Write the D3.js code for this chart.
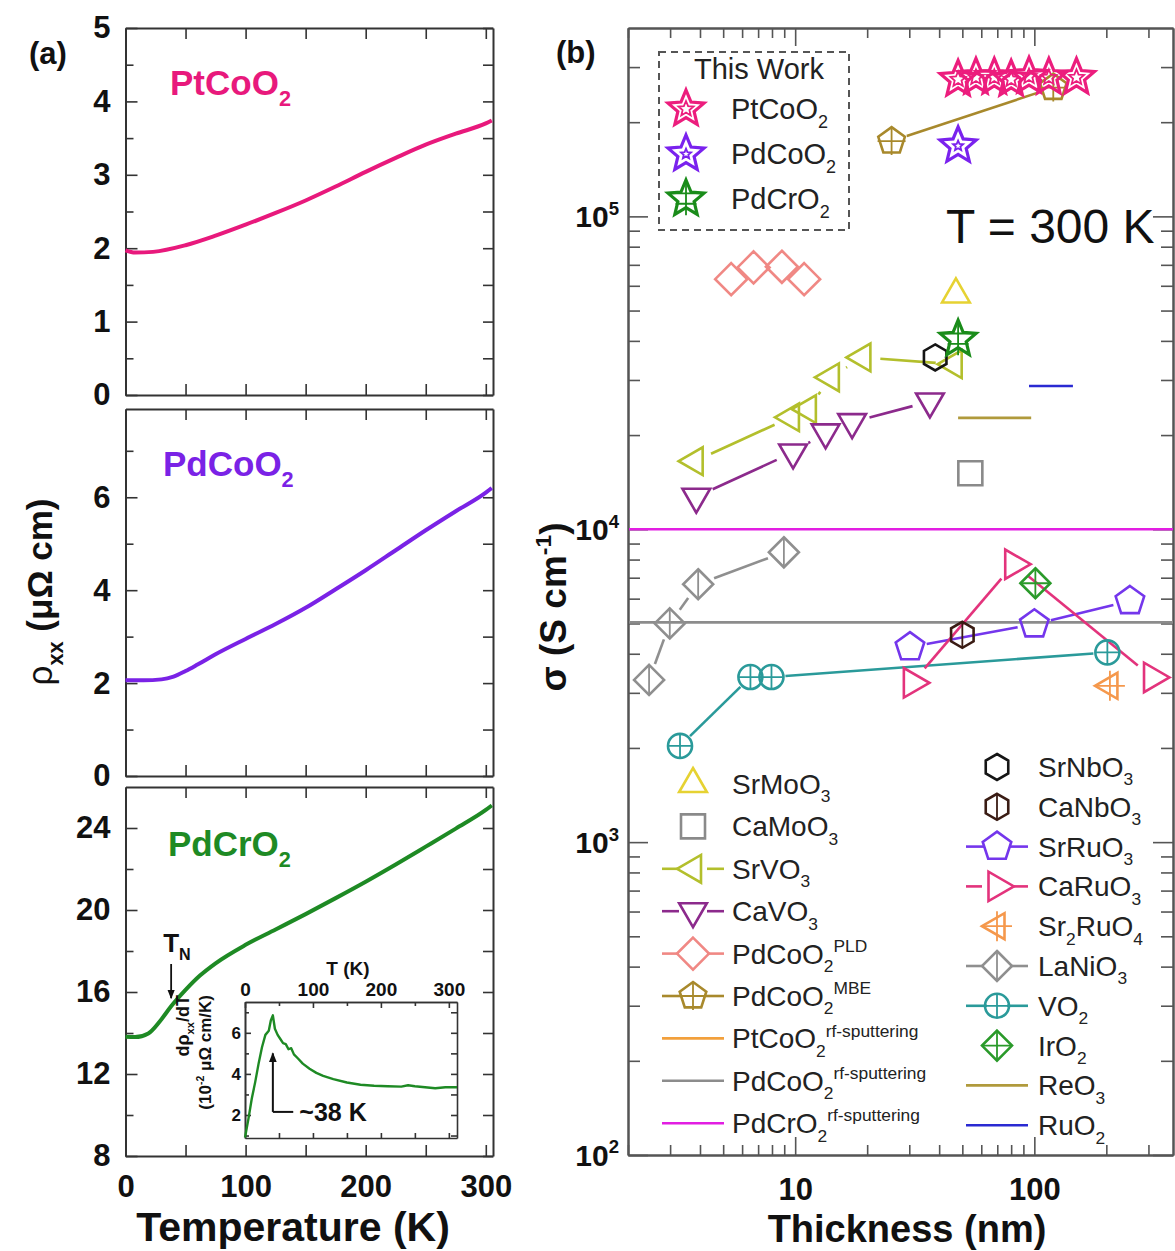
<!DOCTYPE html>
<html>
<head>
<meta charset="utf-8">
<script src="https://cdn.jsdelivr.net/npm/d3@7"></script>
<style>
  body { margin: 0; background: #fff; }
</style>
</head>
<body>
<svg id="fig" width="1175" height="1251"></svg>
<script>
'use strict';
// ---------- panel (a): rho_xx vs temperature ----------
const tempPtCoO2 = [0, 8, 23, 50, 75, 100, 125, 150, 175, 200, 225, 250, 275, 300, 305];
const rhoPtCoO2  = [1.97, 1.94, 1.95, 2.04, 2.17, 2.32, 2.48, 2.65, 2.84, 3.04, 3.23, 3.41, 3.56, 3.70, 3.74];
const tempPdCoO2 = [0, 15, 30, 40, 50, 60, 75, 100, 125, 150, 175, 200, 225, 250, 275, 300, 305];
const rhoPdCoO2  = [2.06, 2.06, 2.08, 2.14, 2.26, 2.40, 2.62, 2.95, 3.27, 3.62, 4.02, 4.43, 4.86, 5.29, 5.70, 6.10, 6.20];
const tempPdCrO2 = [0, 8, 19, 29, 38, 50, 62, 75, 100, 125, 150, 175, 200, 225, 250, 275, 300, 305];
const rhoPdCrO2  = [13.82, 13.8, 13.98, 14.6, 15.3, 16.1, 16.8, 17.4, 18.3, 19.05, 19.8, 20.58, 21.38, 22.22, 23.09, 23.97, 24.88, 25.1];
// inset: d(rho)/dT of PdCrO2 (10^-2 uOhm cm/K)
const tempInset = [0, 5, 10, 15, 20, 25, 30, 35, 38, 41, 44, 48, 52, 56, 60, 64, 68, 72, 78, 85, 95, 105, 115, 130, 150, 170, 190, 210, 230, 240, 250, 265, 280, 295, 312];
const dRhoInset = [0.9, 1.8, 2.8, 3.6, 4.5, 5.3, 5.9, 6.1, 6.6, 6.85, 6.2, 5.9, 5.7, 5.5, 5.45, 5.2, 5.25, 4.95, 4.75, 4.5, 4.25, 4.05, 3.9, 3.75, 3.58, 3.47, 3.42, 3.4, 3.38, 3.45, 3.4, 3.35, 3.3, 3.35, 3.35];
const tempTicks = [0, 50, 100, 150, 200, 250, 300];
const tempLabels = [0, 100, 200, 300];

// ---------- panel (b): conductivity vs thickness, [thickness nm, sigma S/cm] ----------
const ptCoO2Film = [[48, 2.74e5], [57, 2.78e5], [68, 2.78e5], [80, 2.74e5], [95, 2.8e5], [115, 2.78e5], [150, 2.78e5]];
const pdCoO2Film = [[48, 1.68e5]];
const pdCrO2Film = [[48, 4.05e4]];
const srMoO3 = [[47, 5.63e4]];
const caMoO3 = [[54, 1.51e4]];
const srVO3 = [[3.8, 1.65e4], [9.6, 2.28e4], [11.3, 2.42e4], [14.1, 3.06e4], [19.1, 3.54e4], [46, 3.37e4]];
const caVO3 = [[3.86, 1.27e4], [9.8, 1.76e4], [13.4, 2.04e4], [17.3, 2.2e4], [36.6, 2.56e4]];
const pdCoO2PLD = [[5.4, 6.3e4], [6.7, 6.87e4], [8.8, 6.9e4], [10.9, 6.3e4]];
const pdCoO2MBE = [[25.3, 1.74e5], [120, 2.58e5]];
const srNbO3 = [[38.5, 3.54e4]];
const caNbO3 = [[50, 4.6e3]];
const srRuO3 = [[30.2, 4.2e3], [100, 4.97e3], [251, 5.9e3]];
const caRuO3 = [[30.9, 3.23e3], [82, 7.73e3], [312, 3.36e3]];
const sr2RuO4 = [[207, 3.16e3]];
const laNiO3 = [[2.45, 3.3e3], [2.99, 5.0e3], [3.93, 6.67e3], [8.97, 8.44e3]];
const vO2 = [[3.3, 2.03e3], [6.5, 3.37e3], [7.96, 3.37e3], [202, 4.04e3]];
const irO2 = [[101, 6.72e3]];
const reO3 = [[48, 2.27e4], [97, 2.27e4]];
const ruO2 = [[95, 2.87e4], [145, 2.87e4]];
const pdCoO2Rf = 5.04e3;   // horizontal reference lines
const pdCrO2Rf = 1.0e4;
const thickMajor = [10, 100];
const thickMinor = [2, 3, 4, 5, 6, 7, 8, 9, 20, 30, 40, 50, 60, 70, 80, 90, 200, 300];
const sigmaMajor = [1e2, 1e3, 1e4, 1e5];
const sigmaMinor = [2e2, 3e2, 4e2, 5e2, 6e2, 7e2, 8e2, 9e2, 2e3, 3e3, 4e3, 5e3, 6e3, 7e3, 8e3, 9e3,
  2e4, 3e4, 4e4, 5e4, 6e4, 7e4, 8e4, 9e4, 2e5, 3e5];

const FONT = '"Liberation Sans", Arial, Helvetica, sans-serif';
const svg = d3.select('#fig').attr('font-family', FONT);

// rich text: parts = [[text, 'sub'|'sup'|'' , bold?]]
function rich(sel, parts, size) {
  var off = 0;
  parts.forEach(function(p) {
    var kind = p[1] || '';
    var target = kind === 'sub' ? size * 0.3 : (kind === 'sup' ? -size * 0.42 : 0);
    var t = sel.append('tspan')
      .attr('dy', (target - off).toFixed(1))
      .attr('font-size', kind ? size * 0.62 : size)
      .text(p[0]);
    if (p[2] != null) t.attr('font-weight', p[2] ? 'bold' : 'normal');
    off = target;
  });
  return sel;
}

function styleAxis(sel, color, size) {
  sel.attr('font-family', FONT).attr('font-size', size || 30).attr('font-weight', 'bold');
  sel.select('.domain').attr('stroke', color).attr('stroke-width', 2);
  sel.selectAll('.tick line').attr('stroke', color).attr('stroke-width', 1.6);
  sel.selectAll('.tick text').attr('fill', '#111');
}
var none = function() { return ''; };
var plain = function(d) { return String(d); };

// arrow head
svg.append('defs').append('marker')
  .attr('id', 'arr').attr('viewBox', '0 0 10 10').attr('refX', 9).attr('refY', 5)
  .attr('markerWidth', 5).attr('markerHeight', 6).attr('orient', 'auto')
  .append('path').attr('d', 'M0,1L10,5L0,9Z').attr('fill', '#111');

// ================= panel (a) =================
var xA = d3.scaleLinear().domain([0, 306]).range([125.5, 493]);
var panelsA = [
  { top: 28, bottom: 395, dom: [0, 5], major: [0, 1, 2, 3, 4, 5], minor: [0.5, 1.5, 2.5, 3.5, 4.5],
    t: tempPtCoO2, r: rhoPtCoO2, color: '#e8197c', name: 'PtCoO', lx: 170, ly: 95 },
  { top: 409, bottom: 776, dom: [0, 7.9], major: [0, 2, 4, 6], minor: [1, 3, 5, 7],
    t: tempPdCoO2, r: rhoPdCoO2, color: '#7a22e6', name: 'PdCoO', lx: 163, ly: 476 },
  { top: 787, bottom: 1156, dom: [8, 26], major: [8, 12, 16, 20, 24], minor: [10, 14, 18, 22],
    t: tempPdCrO2, r: rhoPdCrO2, color: '#1e8a24', name: 'PdCrO', lx: 168, ly: 856, last: true }
];

panelsA.forEach(function(p) {
  var y = d3.scaleLinear().domain(p.dom).range([p.bottom, p.top]);
  p.y = y;
  var g = svg.append('g');
  var c = '#333';
  // inward ticks on four sides
  g.append('g').attr('transform', 'translate(0,' + p.bottom + ')')
    .call(d3.axisBottom(xA).tickValues(tempTicks.slice(1)).tickSize(-11).tickSizeOuter(0).tickFormat(none))
    .call(styleAxis, c);
  g.append('g').attr('transform', 'translate(0,' + p.top + ')')
    .call(d3.axisTop(xA).tickValues(tempTicks.slice(1)).tickSize(-11).tickSizeOuter(0).tickFormat(none))
    .call(styleAxis, c);
  g.append('g').attr('transform', 'translate(' + xA.range()[0] + ',0)')
    .call(d3.axisLeft(y).tickValues(p.minor).tickSize(-8).tickSizeOuter(0).tickFormat(none))
    .call(styleAxis, c);
  g.append('g').attr('transform', 'translate(' + xA.range()[0] + ',0)')
    .call(d3.axisLeft(y).tickValues(p.major).tickSize(-12).tickSizeOuter(0).tickPadding(15).tickFormat(plain))
    .call(styleAxis, c, 31);
  g.append('g').attr('transform', 'translate(' + xA.range()[1] + ',0)')
    .call(d3.axisRight(y).tickValues(p.major.concat(p.minor)).tickSize(-10).tickSizeOuter(0).tickFormat(none))
    .call(styleAxis, c);
  if (p.last) {
    g.append('g').attr('transform', 'translate(0,' + p.bottom + ')')
      .call(d3.axisBottom(xA).tickValues(tempLabels).tickSize(0).tickPadding(19).tickFormat(plain))
      .call(styleAxis, c, 31)
      .select('.domain').remove();
  }
  // curve
  var pts = p.t.map(function(t, i) { return [t, p.r[i]]; });
  g.append('path').datum(pts)
    .attr('fill', 'none').attr('stroke', p.color).attr('stroke-width', 4)
    .attr('stroke-linejoin', 'round')
    .attr('d', d3.line().x(function(d) { return xA(d[0]); }).y(function(d) { return y(d[1]); }).curve(d3.curveMonotoneX));
  // compound label
  rich(g.append('text').attr('x', p.lx).attr('y', p.ly).attr('fill', p.color).attr('font-weight', 'bold'),
    [[p.name], ['2', 'sub']], 35);
});

// T_N annotation
(function() {
  var p = panelsA[2];
  var tn = 38;
  var g = svg.append('g');
  rich(g.append('text').attr('x', xA(tn) - 8).attr('y', 952).attr('font-weight', 'bold').attr('fill', '#111'),
    [['T'], ['N', 'sub']], 26);
  g.append('line').attr('x1', xA(tn)).attr('x2', xA(tn)).attr('y1', 964).attr('y2', p.y(15.7))
    .attr('stroke', '#111').attr('stroke-width', 1.8).attr('marker-end', 'url(#arr)');
})();

// inset
(function() {
  var xI = d3.scaleLinear().domain([0, 312]).range([245, 457]);
  var yI = d3.scaleLinear().domain([0.88, 7.5]).range([1138, 1002]);
  var g = svg.append('g');
  g.append('rect').attr('x', 245).attr('y', 1002).attr('width', 212).attr('height', 136).attr('fill', '#fff');
  var c = '#333';
  g.append('g').attr('transform', 'translate(0,1002)')
    .call(d3.axisTop(xI).tickValues([0, 100, 200, 300]).tickSize(-6).tickSizeOuter(0).tickPadding(6).tickFormat(plain))
    .call(styleAxis, c, 19);
  g.append('g').attr('transform', 'translate(0,1002)')
    .call(d3.axisTop(xI).tickValues([50, 150, 250]).tickSize(-4).tickSizeOuter(0).tickFormat(none))
    .call(styleAxis, c);
  g.append('g').attr('transform', 'translate(0,1138)')
    .call(d3.axisBottom(xI).tickValues([50, 100, 150, 200, 250, 300]).tickSize(-5).tickSizeOuter(0).tickFormat(none))
    .call(styleAxis, c);
  g.append('g').attr('transform', 'translate(245,0)')
    .call(d3.axisLeft(yI).tickValues([2, 4, 6]).tickSize(-6).tickSizeOuter(0).tickPadding(4).tickFormat(plain))
    .call(styleAxis, c, 17);
  g.append('g').attr('transform', 'translate(245,0)')
    .call(d3.axisLeft(yI).tickValues([1, 3, 5, 7]).tickSize(-4).tickSizeOuter(0).tickFormat(none))
    .call(styleAxis, c);
  g.append('g').attr('transform', 'translate(457,0)')
    .call(d3.axisRight(yI).tickValues([1, 2, 3, 4, 5, 6, 7]).tickSize(-6).tickSizeOuter(0).tickFormat(none))
    .call(styleAxis, c);
  g.selectAll('.domain').attr('stroke-width', 1.6);
  var pts = tempInset.map(function(t, i) { return [t, dRhoInset[i]]; });
  g.append('path').datum(pts).attr('fill', 'none').attr('stroke', '#1e8a24').attr('stroke-width', 2.4)
    .attr('stroke-linejoin', 'round')
    .attr('d', d3.line().x(function(d) { return xI(d[0]); }).y(function(d) { return yI(d[1]); }));
  g.append('text').attr('x', 348).attr('y', 975).attr('text-anchor', 'middle')
    .attr('font-size', 19).attr('font-weight', 'bold').attr('fill', '#111').text('T (K)');
  rich(g.append('text').attr('transform', 'translate(189,995) rotate(-90)').attr('text-anchor', 'end')
    .attr('font-weight', 'bold').attr('fill', '#111'), [['dρ'], ['xx', 'sub'], ['/dT']], 18);
  rich(g.append('text').attr('transform', 'translate(211,995) rotate(-90)').attr('text-anchor', 'end')
    .attr('font-weight', 'bold').attr('fill', '#111'), [['(10'], ['-2', 'sup'], [' μΩ cm/K)']], 17);
  // ~38 K marker
  var xa = xI(41);
  g.append('line').attr('x1', xa).attr('x2', xa).attr('y1', yI(2.15)).attr('y2', yI(5.0))
    .attr('stroke', '#111').attr('stroke-width', 2).attr('marker-end', 'url(#arr)');
  g.append('line').attr('x1', xa).attr('x2', xI(71)).attr('y1', yI(2.15)).attr('y2', yI(2.15))
    .attr('stroke', '#111').attr('stroke-width', 2);
  g.append('text').attr('x', xI(80)).attr('y', yI(2.15) + 9).attr('font-size', 25)
    .attr('font-weight', 'bold').attr('fill', '#111').text('~38 K');
})();

svg.append('text').attr('x', 293).attr('y', 1241).attr('text-anchor', 'middle')
  .attr('font-size', 41).attr('font-weight', 'bold').attr('fill', '#111').text('Temperature (K)');
rich(svg.append('text').attr('transform', 'translate(52,592) rotate(-90)').attr('text-anchor', 'middle')
  .attr('fill', '#111').attr('font-weight', 'bold'), [['ρ', '', false], ['xx', 'sub'], [' (μΩ cm)']], 35);
svg.append('text').attr('x', 29).attr('y', 64).attr('font-size', 31).attr('font-weight', 'bold')
  .attr('fill', '#111').text('(a)');

// ================= panel (b) =================
var xB = d3.scaleLog().domain([2, 380]).range([628, 1173]);
var yB = d3.scaleLog().domain([100, 4e5]).range([1155, 28]);

function shapePath(shape, r) {
  function poly(n, start, rad) {
    return d3.range(n).map(function(i) {
      var a = (start + i * 360 / n) * Math.PI / 180;
      return [rad * Math.cos(a), rad * Math.sin(a)];
    });
  }
  var pts;
  switch (shape) {
    case 'star':
      pts = d3.range(10).map(function(i) {
        var a = (-90 + i * 36) * Math.PI / 180, rr = i % 2 ? r * 0.45 : r;
        return [rr * Math.cos(a), rr * Math.sin(a)];
      });
      break;
    case 'triUp': pts = poly(3, -90, r); break;
    case 'triDown': pts = poly(3, 90, r); break;
    case 'triLeft': pts = poly(3, 180, r); break;
    case 'triRight': pts = poly(3, 0, r); break;
    case 'diamond': pts = poly(4, -90, r); break;
    case 'square': pts = poly(4, -45, r * 1.414); break;
    case 'pentagon': pts = poly(5, -90, r); break;
    case 'hexagon': pts = poly(6, -90, r); break;
    case 'circle':
      return 'M' + r + ',0A' + r + ',' + r + ' 0 1,1 ' + (-r) + ',0A' + r + ',' + r + ' 0 1,1 ' + r + ',0Z';
  }
  return 'M' + pts.map(function(q) { return q[0].toFixed(2) + ',' + q[1].toFixed(2); }).join('L') + 'Z';
}
function decoPath(deco, r) {
  if (deco === 'plus') return 'M' + (-r) + ',0H' + r + 'M0,' + (-r) + 'V' + r;
  if (deco === 'vline') return 'M0,' + (-r) + 'V' + r;
  if (deco === 'innerStar') return shapePath('star', r * 0.42);
  if (deco === 'smallStar') return shapePath('star', r * 0.28);
  if (deco === 'crossStar') return 'M0,' + (-r) + 'V' + (r * 0.85) + 'M' + (-r * 0.95) + ',' + (-r * 0.3) + 'H' + (r * 0.95) +
    'M' + (-r * 0.55) + ',' + (r * 0.25) + 'H' + (r * 0.55);
  return null;
}
function drawMarker(g, s, cx, cy) {
  if (!s.shape) return;
  var m = g.append('g').attr('transform', 'translate(' + cx + ',' + cy + ')');
  m.append('path').attr('d', shapePath(s.shape, s.r)).attr('fill', 'none')
    .attr('stroke', s.color).attr('stroke-width', s.sw || 2.6).attr('stroke-linejoin', 'miter');
  var d = s.deco ? decoPath(s.deco, s.r) : null;
  if (d) m.append('path').attr('d', d).attr('fill', 'none').attr('stroke', s.color).attr('stroke-width', 1.8);
}
// line segments with gaps around markers
function gappedLine(g, pts, gap, color, w) {
  for (var i = 1; i < pts.length; i++) {
    var a = pts[i - 1], b = pts[i];
    var dx = b[0] - a[0], dy = b[1] - a[1], L = Math.sqrt(dx * dx + dy * dy);
    if (L <= 2 * gap) continue;
    var ux = dx / L, uy = dy / L;
    g.append('line')
      .attr('x1', a[0] + ux * gap).attr('y1', a[1] + uy * gap)
      .attr('x2', b[0] - ux * gap).attr('y2', b[1] - uy * gap)
      .attr('stroke', color).attr('stroke-width', w || 2.5);
  }
}

var series = {
  ptFilm:  { data: ptCoO2Film, shape: 'star', deco: 'innerStar', r: 19, color: '#ec1d7d', sw: 3.2 },
  pdFilm:  { data: pdCoO2Film, shape: 'star', deco: 'smallStar', r: 19, color: '#7a22ee', sw: 3.2 },
  crFilm:  { data: pdCrO2Film, shape: 'star', deco: 'crossStar', r: 19, color: '#1a8c1a', sw: 3.2 },
  srMoO3:  { data: srMoO3, shape: 'triUp', r: 16, color: '#e6d232' },
  caMoO3:  { data: caMoO3, shape: 'square', r: 12, color: '#8a8a8a' },
  srVO3:   { data: srVO3, shape: 'triLeft', r: 16, color: '#b3bf2c', line: true },
  caVO3:   { data: caVO3, shape: 'triDown', r: 16, color: '#8c2a8c', line: true },
  pld:     { data: pdCoO2PLD, shape: 'diamond', r: 16, color: '#f08884', line: true },
  mbe:     { data: pdCoO2MBE, shape: 'pentagon', deco: 'plus', r: 14, color: '#a8892c', line: true },
  ptRf:    { color: '#f2a03c', line: true },
  pdRf:    { color: '#8c8c8c', line: true },
  crRf:    { color: '#e21ee2', line: true },
  srNbO3:  { data: srNbO3, shape: 'hexagon', r: 13, color: '#151515' },
  caNbO3:  { data: caNbO3, shape: 'hexagon', deco: 'vline', r: 13, color: '#3a1c14' },
  srRuO3:  { data: srRuO3, shape: 'pentagon', r: 15, color: '#7436ec', line: true },
  caRuO3:  { data: caRuO3, shape: 'triRight', r: 17, color: '#e3337c', line: true },
  sr2RuO4: { data: sr2RuO4, shape: 'triLeft', deco: 'plus', r: 15, color: '#f5984c' },
  laNiO3:  { data: laNiO3, shape: 'diamond', deco: 'vline', r: 15, color: '#8f8f8f', line: true },
  vO2:     { data: vO2, shape: 'circle', deco: 'plus', r: 12, color: '#2a9a9a', line: true },
  irO2:    { data: irO2, shape: 'diamond', deco: 'plus', r: 15, color: '#2a9a2a' },
  reO3:    { data: reO3, color: '#b09a3c', line: true },
  ruO2:    { data: ruO2, color: '#2a2ad2', line: true }
};

var gB = svg.append('g');
// frame and ticks
(function() {
  var c = '#555';
  gB.append('g').attr('transform', 'translate(0,1155)')
    .call(d3.axisBottom(xB).tickValues(thickMinor).tickSize(-10).tickSizeOuter(0).tickFormat(none)).call(styleAxis, c);
  gB.append('g').attr('transform', 'translate(0,1155)')
    .call(d3.axisBottom(xB).tickValues(thickMajor).tickSize(-18).tickSizeOuter(0).tickPadding(23)
      .tickFormat(plain)).call(styleAxis, c, 31);
  gB.append('g').attr('transform', 'translate(0,28)')
    .call(d3.axisTop(xB).tickValues(thickMinor).tickSize(-10).tickSizeOuter(0).tickFormat(none)).call(styleAxis, c);
  gB.append('g').attr('transform', 'translate(0,28)')
    .call(d3.axisTop(xB).tickValues(thickMajor).tickSize(-18).tickSizeOuter(0).tickFormat(none)).call(styleAxis, c);
  [[628, d3.axisLeft], [1173, d3.axisRight]].forEach(function(s) {
    gB.append('g').attr('transform', 'translate(' + s[0] + ',0)')
      .call(s[1](yB).tickValues(sigmaMinor).tickSize(-12).tickSizeOuter(0).tickFormat(none)).call(styleAxis, c);
    gB.append('g').attr('transform', 'translate(' + s[0] + ',0)')
      .call(s[1](yB).tickValues(sigmaMajor).tickSize(-20).tickSizeOuter(0).tickFormat(none)).call(styleAxis, c);
  });
  gB.selectAll('.ylab').data(sigmaMajor).enter().append('text')
    .attr('class', 'ylab').attr('x', 619).attr('y', function(d) { return yB(d) + 11; })
    .attr('text-anchor', 'end').attr('font-weight', 'bold').attr('fill', '#111')
    .each(function(d) {
      rich(d3.select(this), [['10'], [String(Math.round(Math.log10(d))), 'sup']], 30);
    });
})();

// reference lines from rf-sputtered films
[[pdCoO2Rf, series.pdRf.color], [pdCrO2Rf, series.crRf.color]].forEach(function(l) {
  gB.append('line').attr('x1', xB.range()[0] + 1).attr('x2', xB.range()[1])
    .attr('y1', yB(l[0])).attr('y2', yB(l[0])).attr('stroke', l[1]).attr('stroke-width', 2.6);
});

var plotOrder = ['pld', 'laNiO3', 'vO2', 'srVO3', 'caVO3', 'mbe', 'srRuO3', 'caRuO3', 'reO3', 'ruO2',
  'srMoO3', 'caMoO3', 'srNbO3', 'caNbO3', 'sr2RuO4', 'irO2', 'ptFilm', 'pdFilm', 'crFilm'];
// lines first
plotOrder.forEach(function(k) {
  var s = series[k];
  if (!s.line || !s.data) return;
  var pts = s.data.map(function(d) { return [xB(d[0]), yB(d[1])]; });
  gappedLine(gB, pts, s.shape ? s.r + 2 : 0, s.color, 2.6);
});
plotOrder.forEach(function(k) {
  var s = series[k];
  if (!s.shape) return;
  s.data.forEach(function(d) { drawMarker(gB, s, xB(d[0]), yB(d[1])); });
});

// "This Work" legend
(function() {
  var g = svg.append('g');
  g.append('rect').attr('x', 659).attr('y', 52).attr('width', 190).attr('height', 178)
    .attr('fill', 'none').attr('stroke', '#555').attr('stroke-width', 2).attr('stroke-dasharray', '7,5');
  g.append('text').attr('x', 759).attr('y', 79).attr('text-anchor', 'middle').attr('font-size', 29)
    .attr('fill', '#222').text('This Work');
  [['ptFilm', 'PtCoO'], ['pdFilm', 'PdCoO'], ['crFilm', 'PdCrO']].forEach(function(it, i) {
    var yy = 109 + i * 45;
    drawMarker(g, series[it[0]], 686, yy);
    rich(g.append('text').attr('x', 731).attr('y', yy + 10).attr('fill', '#222'), [[it[1]], ['2', 'sub']], 29);
  });
})();

svg.append('text').attr('x', 946).attr('y', 243).attr('font-size', 48).attr('fill', '#111').text('T = 300 K');

// bottom legends
var legendLeft = [
  ['srMoO3', [['SrMoO'], ['3', 'sub']]],
  ['caMoO3', [['CaMoO'], ['3', 'sub']]],
  ['srVO3', [['SrVO'], ['3', 'sub']]],
  ['caVO3', [['CaVO'], ['3', 'sub']]],
  ['pld', [['PdCoO'], ['2', 'sub'], ['PLD', 'sup']]],
  ['mbe', [['PdCoO'], ['2', 'sub'], ['MBE', 'sup']]],
  ['ptRf', [['PtCoO'], ['2', 'sub'], ['rf-sputtering', 'sup']]],
  ['pdRf', [['PdCoO'], ['2', 'sub'], ['rf-sputtering', 'sup']]],
  ['crRf', [['PdCrO'], ['2', 'sub'], ['rf-sputtering', 'sup']]]
];
var legendRight = [
  ['srNbO3', [['SrNbO'], ['3', 'sub']]],
  ['caNbO3', [['CaNbO'], ['3', 'sub']]],
  ['srRuO3', [['SrRuO'], ['3', 'sub']]],
  ['caRuO3', [['CaRuO'], ['3', 'sub']]],
  ['sr2RuO4', [['Sr'], ['2', 'sub'], ['RuO'], ['4', 'sub']]],
  ['laNiO3', [['LaNiO'], ['3', 'sub']]],
  ['vO2', [['VO'], ['2', 'sub']]],
  ['irO2', [['IrO'], ['2', 'sub']]],
  ['reO3', [['ReO'], ['3', 'sub']]],
  ['ruO2', [['RuO'], ['2', 'sub']]]
];
function drawLegend(items, mx, tx, y0, dy) {
  var g = svg.append('g');
  items.forEach(function(it, i) {
    var s = series[it[0]], yy = y0 + i * dy;
    if (s.line) {
      var gap = s.shape ? s.r - 2 : 0;
      if (gap) {
        g.append('line').attr('x1', mx - 31).attr('x2', mx - gap).attr('y1', yy).attr('y2', yy)
          .attr('stroke', s.color).attr('stroke-width', 2.6);
        g.append('line').attr('x1', mx + gap).attr('x2', mx + 31).attr('y1', yy).attr('y2', yy)
          .attr('stroke', s.color).attr('stroke-width', 2.6);
      } else {
        g.append('line').attr('x1', mx - 31).attr('x2', mx + 31).attr('y1', yy).attr('y2', yy)
          .attr('stroke', s.color).attr('stroke-width', 2.6);
      }
    }
    drawMarker(g, s, mx, yy);
    rich(g.append('text').attr('x', tx).attr('y', yy + 10).attr('fill', '#222'), it[1], 28);
  });
}
drawLegend(legendLeft, 693, 732, 784, 42.4);
drawLegend(legendRight, 997, 1038, 767, 39.8);

svg.append('text').attr('x', 907).attr('y', 1242).attr('text-anchor', 'middle')
  .attr('font-size', 38).attr('font-weight', 'bold').attr('fill', '#111').text('Thickness (nm)');
rich(svg.append('text').attr('transform', 'translate(566,607) rotate(-90)').attr('text-anchor', 'middle')
  .attr('font-weight', 'bold').attr('fill', '#111'), [['σ (S cm'], ['-1', 'sup'], [')']], 37);
svg.append('text').attr('x', 556).attr('y', 63).attr('font-size', 31).attr('font-weight', 'bold')
  .attr('fill', '#111').text('(b)');
</script>
</body>
</html>
